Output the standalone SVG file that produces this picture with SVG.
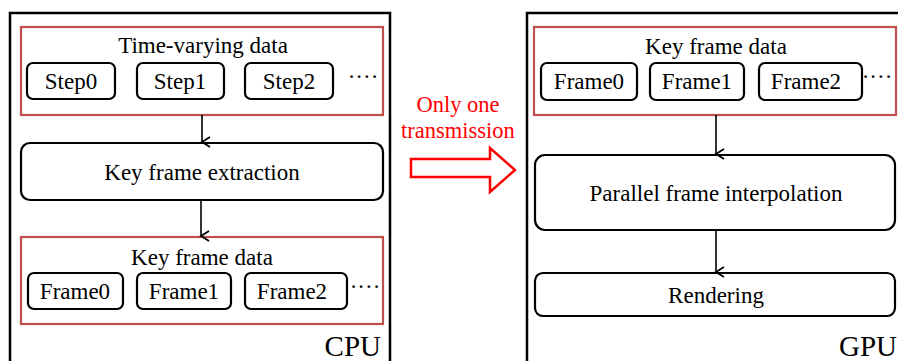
<svg xmlns="http://www.w3.org/2000/svg" width="898" height="361" viewBox="0 0 898 361">
<defs>
<marker id="ah" markerWidth="14" markerHeight="14" refX="6" refY="11" orient="auto" markerUnits="userSpaceOnUse">
<path d="M1,3 L6,11 L11,3" fill="none" stroke="#000" stroke-width="1.8"/>
</marker>
</defs>
<style>
.outer{fill:none;stroke:#000;stroke-width:2.5}
.red{fill:none;stroke:#c0504d;stroke-width:2.2}
.node{fill:#fff;stroke:#000;stroke-width:2.2}
.t{font-family:"Liberation Serif","Times New Roman",serif;font-size:23px;fill:#000;text-anchor:middle}
.big{font-family:"Liberation Serif","Times New Roman",serif;font-size:29px;fill:#000;text-anchor:end}
.rt{font-family:"Liberation Serif","Times New Roman",serif;font-size:22.5px;fill:#ff0000;text-anchor:middle}
.c{stroke:#000;stroke-width:1.6;fill:none}
</style>
<rect width="898" height="361" fill="#fff"/>
<g id="cpu">
<rect class="outer" x="10" y="13" width="380" height="360"/>
<text class="big" x="381" y="356">CPU</text>
</g>
<g id="gpu">
<rect class="outer" x="527" y="13" width="380" height="360"/>
<text class="big" x="897" y="356">GPU</text>
</g>
<g id="time-varying">
<rect class="red" x="21" y="27" width="362" height="88"/>
<text class="t" x="203" y="53">Time-varying data</text>
</g>
<g id="step0"><rect class="node" x="27" y="63" width="88" height="36" rx="6"/><text class="t" x="71" y="89">Step0</text></g>
<g id="step1"><rect class="node" x="137" y="63" width="87" height="36" rx="6"/><text class="t" x="180" y="89">Step1</text></g>
<g id="step2"><rect class="node" x="245" y="63" width="88" height="36" rx="6"/><text class="t" x="289" y="89">Step2</text></g>
<text class="t" x="363" y="84">····</text>
<g id="extract">
<rect class="node" x="21" y="143" width="362" height="57" rx="9"/>
<text class="t" x="202" y="180">Key frame extraction</text>
</g>
<g id="keyframes-cpu">
<rect class="red" x="21" y="237" width="362" height="87"/>
<text class="t" x="202" y="265">Key frame data</text>
</g>
<g id="cframe0"><rect class="node" x="28" y="273" width="95" height="36" rx="6"/><text class="t" x="75" y="299">Frame0</text></g>
<g id="cframe1"><rect class="node" x="137" y="273" width="94" height="36" rx="6"/><text class="t" x="184" y="299">Frame1</text></g>
<g id="cframe2"><rect class="node" x="245" y="273" width="102" height="36" rx="6"/><text class="t" x="292" y="299">Frame2</text></g>
<text class="t" x="365" y="294">····</text>
<g id="keyframes-gpu">
<rect class="red" x="534" y="27" width="362" height="88"/>
<text class="t" x="716" y="54">Key frame data</text>
</g>
<g id="gframe0"><rect class="node" x="541" y="63" width="96" height="37" rx="6"/><text class="t" x="589" y="89">Frame0</text></g>
<g id="gframe1"><rect class="node" x="650" y="63" width="94" height="37" rx="6"/><text class="t" x="697" y="89">Frame1</text></g>
<g id="gframe2"><rect class="node" x="759" y="63" width="103" height="37" rx="6"/><text class="t" x="806" y="89">Frame2</text></g>
<text class="t" x="877" y="84">····</text>
<g id="interp">
<rect class="node" x="535" y="155" width="360" height="75" rx="10"/>
<text class="t" x="716" y="201">Parallel frame interpolation</text>
</g>
<g id="render">
<rect class="node" x="535" y="273" width="360" height="43" rx="8"/>
<text class="t" x="716" y="303">Rendering</text>
</g>
<g id="transfer">
<text class="rt" x="458" y="112">Only one</text>
<text class="rt" x="458" y="138">transmission</text>
<path d="M411,159 L490,159 L490,148 L515,170 L490,192 L490,177 L411,177 Z" fill="none" stroke="#ff0000" stroke-width="2.5"/>
</g>
<g id="connectors">
<line class="c" x1="202" y1="115" x2="202" y2="142" marker-end="url(#ah)"/>
<line class="c" x1="201" y1="200" x2="201" y2="236" marker-end="url(#ah)"/>
<line class="c" x1="716" y1="115" x2="716" y2="154" marker-end="url(#ah)"/>
<line class="c" x1="716" y1="230" x2="716" y2="272" marker-end="url(#ah)"/>
</g>
</svg>
